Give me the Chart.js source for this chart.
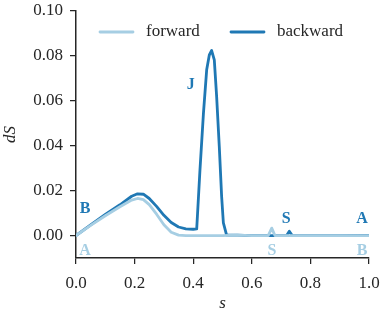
<!DOCTYPE html>
<html>
<head>
<meta charset="utf-8">
<script src="https://cdn.jsdelivr.net/npm/chart.js@4/dist/chart.umd.min.js"></script>
<style>
html,body{margin:0;padding:0;background:#fff;}
#wrap{width:383px;height:320px;position:relative;}
</style>
</head>
<body>
<div id="wrap"><canvas id="c" width="383" height="320"></canvas></div>
<script>
// ---- data ----
const forwardS = [0, 0.05, 0.10, 0.15, 0.19, 0.21, 0.23, 0.25, 0.275, 0.30, 0.325, 0.35, 0.375, 0.45, 0.50, 0.55, 0.60, 0.656, 0.668, 0.679, 0.80, 0.90, 1.0];
const forwardV = [0, 0.0045, 0.0088, 0.0128, 0.0158, 0.0165, 0.0160, 0.0138, 0.0095, 0.0048, 0.0015, 0.0002, 0, 0, 0, 0.0002, 0, 0, 0.0033, 0, 0, 0, 0];
const backwardS = [0, 0.05, 0.10, 0.15, 0.19, 0.21, 0.23, 0.25, 0.275, 0.30, 0.325, 0.35, 0.375, 0.40, 0.412, 0.423, 0.435, 0.446, 0.455, 0.463, 0.472, 0.480, 0.489, 0.497, 0.503, 0.514, 0.55, 0.60, 0.70, 0.719, 0.728, 0.738, 0.80, 0.90, 1.0];
const backwardV = [0, 0.0048, 0.0094, 0.0137, 0.0175, 0.0186, 0.0184, 0.0165, 0.0130, 0.0090, 0.0058, 0.0038, 0.0030, 0.0028, 0.0030, 0.029, 0.0545, 0.0738, 0.0804, 0.0824, 0.0782, 0.0619, 0.0397, 0.0175, 0.0056, 0.0002, 0.0002, 0, 0, 0, 0.0019, 0, 0, 0, 0.0001];
const seriesNames = ['forward', 'backward'];
const xTicks = [0, 0.2, 0.4, 0.6, 0.8, 1.0];
const yTicks = [0, 0.02, 0.04, 0.06, 0.08, 0.10];
// state labels: text, s, value, series index
const markText = ['B', 'A', 'J', 'S', 'S', 'A', 'B'];
const markS    = [0.031, 0.031, 0.392, 0.717, 0.669, 0.976, 0.976];
const markV    = [0.0120, -0.0067, 0.0670, 0.0076, -0.0067, 0.0076, -0.0067];
const markSer  = [1, 0, 1, 1, 0, 1, 0];

const COLORS = ['#a6cee3', '#1f78b4'];
const INK = '#262626';
const SERIF = '"Liberation Serif", "DejaVu Serif", serif';
const FS = 17;

function pts(xs, ys){ return xs.map((x,i)=>({x:x, y:ys[i]})); }

const marksPlugin = {
  id: 'marks',
  afterDatasetsDraw(chart){
    const ctx = chart.ctx, xs = chart.scales.x, ys = chart.scales.y;
    ctx.save();
    ctx.font = 'bold 16px ' + SERIF;
    ctx.textAlign = 'center';
    ctx.textBaseline = 'middle';
    markText.forEach((t,i)=>{
      ctx.fillStyle = COLORS[markSer[i]];
      ctx.fillText(t, xs.getPixelForValue(markS[i]), ys.getPixelForValue(markV[i]));
    });
    // legend
    const lx = [100, 231], tx = [146, 277], ly = 32;
    ctx.font = FS + 'px ' + SERIF;
    ctx.textAlign = 'left';
    ctx.lineCap = 'round';
    seriesNames.forEach((n,i)=>{
      ctx.strokeStyle = COLORS[i];
      ctx.lineWidth = 2.8;
      ctx.beginPath(); ctx.moveTo(lx[i], ly); ctx.lineTo(lx[i]+33, ly); ctx.stroke();
      ctx.fillStyle = INK;
      ctx.fillText(n, tx[i], ly);
    });
    ctx.restore();
  }
};

new Chart(document.getElementById('c'), {
  type: 'line',
  data: {
    datasets: [
      { label: seriesNames[0], data: pts(forwardS, forwardV), borderColor: COLORS[0], borderWidth: 2.8, pointRadius: 0, tension: 0, fill: false, borderJoinStyle: 'round', borderCapStyle: 'round' },
      { label: seriesNames[1], data: pts(backwardS, backwardV), borderColor: COLORS[1], borderWidth: 2.8, pointRadius: 0, tension: 0, fill: false, borderJoinStyle: 'round', borderCapStyle: 'round' }
    ]
  },
  options: {
    responsive: false,
    animation: false,
    layout: { padding: { top: 11, right: 14, left: 0, bottom: 0 } },
    plugins: { legend: { display: false }, tooltip: { enabled: false } },
    scales: {
      x: {
        type: 'linear', min: 0, max: 1,
        afterBuildTicks(s){ s.ticks = xTicks.map(v=>({value:v})); },
        afterFit(s){ s.height = 62; s.paddingLeft = 0; s.paddingRight = 0; },
        ticks: { color: INK, font: { family: SERIF, size: FS }, padding: 9, callback: v => v.toFixed(1), maxRotation: 0 },
        grid: { drawOnChartArea: false, drawTicks: true, tickLength: 6, color: INK, lineWidth: 1.25 },
        border: { display: true, color: INK, width: 1.5 },
        title: { display: true, text: 's', color: INK, font: { family: SERIF, size: FS, style: 'italic' }, padding: { top: 0, bottom: 6 } }
      },
      y: {
        type: 'linear', min: -0.01, max: 0.10,
        afterBuildTicks(s){ s.ticks = yTicks.map(v=>({value:v})); },
        afterFit(s){ s.width = 76; s.paddingTop = 0; s.paddingBottom = 0; },
        ticks: { color: INK, font: { family: SERIF, size: FS }, padding: 7, callback: v => v.toFixed(2) },
        grid: { drawOnChartArea: false, drawTicks: true, tickLength: 6, color: INK, lineWidth: 1.25 },
        border: { display: true, color: INK, width: 1.5 },
        title: { display: true, text: 'dS', color: INK, font: { family: SERIF, size: FS, style: 'italic' }, padding: { top: 0, bottom: 4 } }
      }
    }
  },
  plugins: [marksPlugin]
});
</script>
</body>
</html>
